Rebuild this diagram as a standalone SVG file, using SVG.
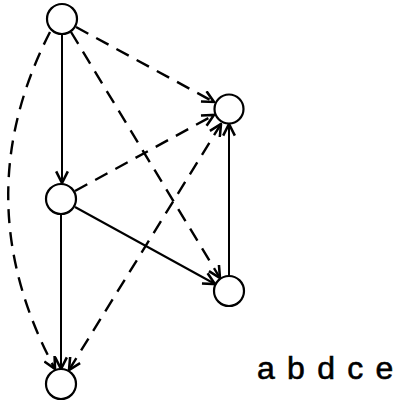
<svg xmlns="http://www.w3.org/2000/svg" width="402" height="401" viewBox="0 0 402 401">
<defs>
<style>
.node{fill:#fff;stroke:#000;stroke-width:2.2}
.e{fill:none;stroke:#000;stroke-width:2;marker-end:url(#ah)}
.d{stroke-dasharray:14 9;stroke-width:2.4}
.lbl{font-family:"Liberation Sans",sans-serif;font-size:32px;fill:#000;stroke:#000;stroke-width:0.6}
</style>
<marker id="ah" viewBox="0 0 12 12" refX="11" refY="6" markerWidth="14" markerHeight="14" markerUnits="userSpaceOnUse" orient="auto-start-reverse">
<path d="M1,1 L11,6 L1,11" fill="none" stroke="#000" stroke-width="2.2"/>
</marker>
</defs>
<rect width="402" height="401" fill="#fff"/>
<g id="connectors">
<line class="e" x1="62" y1="34" x2="62" y2="183"/>
<line class="e d" x1="76" y1="27" x2="214" y2="102"/>
<line class="e d" x1="71" y1="32" x2="220" y2="278"/>
<path class="e d" d="M50,32 Q-36,200 55,369"/>
<line class="e d" x1="75" y1="191" x2="214" y2="115"/>
<line class="e" x1="75" y1="207" x2="215" y2="284"/>
<line class="e" x1="61" y1="214" x2="61" y2="369"/>
<line class="e" x1="229" y1="276" x2="229" y2="124"/>
<line class="e d" x1="69" y1="370" x2="221" y2="124" style="marker-start:url(#ah)"/>
</g>
<g id="a"><circle class="node" cx="62" cy="19" r="15"/></g>
<g id="b"><circle class="node" cx="61" cy="199" r="15"/></g>
<g id="c"><circle class="node" cx="229" cy="109" r="14.5"/></g>
<g id="d"><circle class="node" cx="229" cy="291" r="15"/></g>
<g id="e"><circle class="node" cx="61" cy="384" r="15"/></g>
<text class="lbl" x="257" y="379" style="letter-spacing:1.7px">a b d c e</text>
</svg>
